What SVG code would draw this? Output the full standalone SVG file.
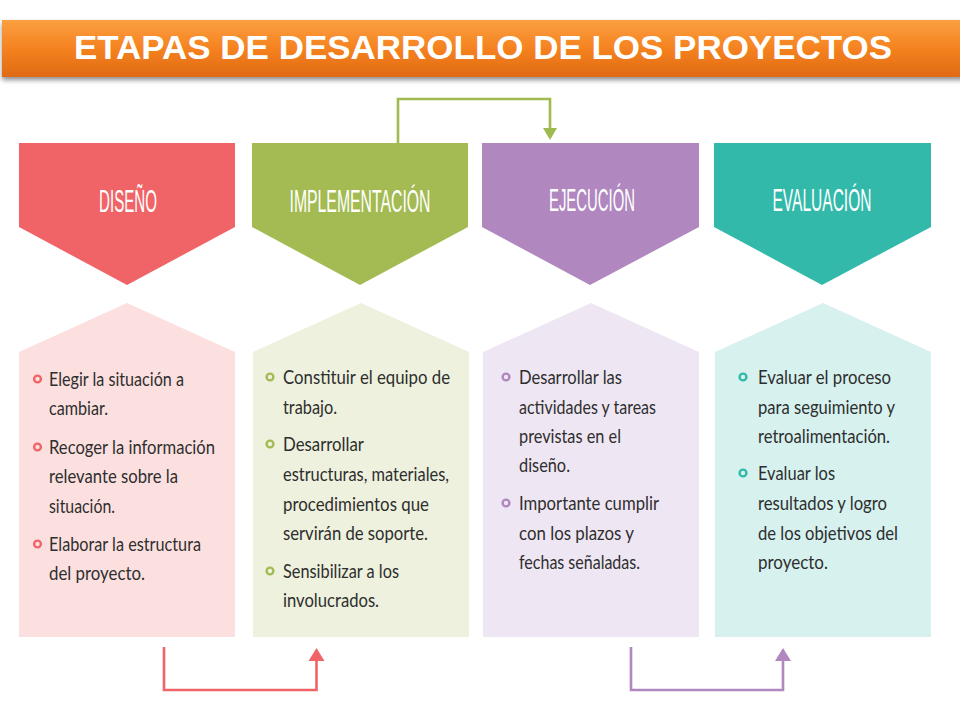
<svg xmlns="http://www.w3.org/2000/svg" width="960" height="720" viewBox="0 0 960 720">
<defs>
<linearGradient id="og" x1="0" y1="0" x2="0" y2="1">
<stop offset="0" stop-color="#fba041"/>
<stop offset="0.5" stop-color="#f58220"/>
<stop offset="1" stop-color="#e06a12"/>
</linearGradient>
<filter id="sh" x="-5%" y="-20%" width="110%" height="160%">
<feGaussianBlur in="SourceAlpha" stdDeviation="2.5"/>
<feOffset dx="0" dy="3" result="b"/>
<feComponentTransfer><feFuncA type="linear" slope="0.45"/></feComponentTransfer>
<feMerge><feMergeNode/><feMergeNode in="SourceGraphic"/></feMerge>
</filter>
<style>
.hd{font-family:"Liberation Sans",Arial,sans-serif;font-size:31px;fill:#ffffff;text-anchor:middle}
.tx{font-family:Lato,"Liberation Sans",sans-serif;font-size:20px;fill:#2e2e2e}
.ln{fill:none;stroke-width:2.6}
.bl{fill:none;stroke-width:2.4}
</style>
</defs>
<rect width="960" height="720" fill="#ffffff"/>

<g id="title">
<rect x="2" y="20" width="962" height="57" fill="url(#og)" filter="url(#sh)"/>
<text x="483" y="59" font-family="Liberation Sans,Arial,sans-serif" font-weight="bold" font-size="33" fill="#ffffff" text-anchor="middle" textLength="818" lengthAdjust="spacingAndGlyphs">ETAPAS DE DESARROLLO DE LOS PROYECTOS</text>
</g>

<g id="diseno">
<path d="M19,143 H235 V227 L127,285 L19,227 Z" fill="#f06467"/>
<text class="hd" x="128" y="212" textLength="58" lengthAdjust="spacingAndGlyphs">DISEÑO</text>
<path d="M19,352 L127,303 L235,352 V637 H19 Z" fill="#fce0e0"/>
<g class="bl" stroke="#f06467">
<circle cx="37.5" cy="379" r="3.4"/><circle cx="37.5" cy="447" r="3.4"/><circle cx="37.5" cy="544" r="3.4"/>
</g>
<text class="tx" x="49" y="386" textLength="135" lengthAdjust="spacingAndGlyphs">Elegir la situación a</text>
<text class="tx" x="49" y="415" textLength="59" lengthAdjust="spacingAndGlyphs">cambiar.</text>
<text class="tx" x="49" y="454" textLength="166" lengthAdjust="spacingAndGlyphs">Recoger la información</text>
<text class="tx" x="49" y="483" textLength="129" lengthAdjust="spacingAndGlyphs">relevante sobre la</text>
<text class="tx" x="49" y="513" textLength="66" lengthAdjust="spacingAndGlyphs">situación.</text>
<text class="tx" x="49" y="551" textLength="152" lengthAdjust="spacingAndGlyphs">Elaborar la estructura</text>
<text class="tx" x="49" y="580" textLength="96" lengthAdjust="spacingAndGlyphs">del proyecto.</text>
</g>

<g id="implementacion">
<path d="M252,143 H468 V227 L360,285 L252,227 Z" fill="#a3bb52"/>
<text class="hd" x="360" y="212" textLength="141" lengthAdjust="spacingAndGlyphs">IMPLEMENTACIÓN</text>
<path d="M253,352 L361,303 L469,352 V637 H253 Z" fill="#edf1dd"/>
<g class="bl" stroke="#a3bb52">
<circle cx="270" cy="377" r="3.4"/><circle cx="270" cy="444" r="3.4"/><circle cx="270" cy="571" r="3.4"/>
</g>
<text class="tx" x="283" y="384" textLength="167" lengthAdjust="spacingAndGlyphs">Constituir el equipo de</text>
<text class="tx" x="283" y="414" textLength="54" lengthAdjust="spacingAndGlyphs">trabajo.</text>
<text class="tx" x="283" y="451" textLength="81" lengthAdjust="spacingAndGlyphs">Desarrollar</text>
<text class="tx" x="283" y="481" textLength="166" lengthAdjust="spacingAndGlyphs">estructuras, materiales,</text>
<text class="tx" x="283" y="511" textLength="146" lengthAdjust="spacingAndGlyphs">procedimientos que</text>
<text class="tx" x="283" y="540" textLength="145" lengthAdjust="spacingAndGlyphs">servirán de soporte.</text>
<text class="tx" x="283" y="578" textLength="116" lengthAdjust="spacingAndGlyphs">Sensibilizar a los</text>
<text class="tx" x="283" y="607" textLength="96" lengthAdjust="spacingAndGlyphs">involucrados.</text>
</g>

<g id="ejecucion">
<path d="M482,143 H699 V227 L590,285 L482,227 Z" fill="#b087be"/>
<text class="hd" x="592" y="211" textLength="86" lengthAdjust="spacingAndGlyphs">EJECUCIÓN</text>
<path d="M483,352 L591,303 L699,352 V637 H483 Z" fill="#efe6f3"/>
<g class="bl" stroke="#b087be">
<circle cx="506" cy="377" r="3.4"/><circle cx="506" cy="503" r="3.4"/>
</g>
<text class="tx" x="519" y="384" textLength="103" lengthAdjust="spacingAndGlyphs">Desarrollar las</text>
<text class="tx" x="519" y="414" textLength="137" lengthAdjust="spacingAndGlyphs">actividades y tareas</text>
<text class="tx" x="519" y="443" textLength="102" lengthAdjust="spacingAndGlyphs">previstas en el</text>
<text class="tx" x="519" y="472" textLength="51" lengthAdjust="spacingAndGlyphs">diseño.</text>
<text class="tx" x="519" y="510" textLength="140" lengthAdjust="spacingAndGlyphs">Importante cumplir</text>
<text class="tx" x="519" y="540" textLength="115" lengthAdjust="spacingAndGlyphs">con los plazos y</text>
<text class="tx" x="519" y="569" textLength="121" lengthAdjust="spacingAndGlyphs">fechas señaladas.</text>
</g>

<g id="evaluacion">
<path d="M714,143 H931 V227 L822,285 L714,227 Z" fill="#33b9aa"/>
<text class="hd" x="822" y="211" textLength="99" lengthAdjust="spacingAndGlyphs">EVALUACIÓN</text>
<path d="M715,352 L823,303 L931,352 V637 H715 Z" fill="#d6f1ee"/>
<g class="bl" stroke="#33b9aa">
<circle cx="743" cy="377" r="3.4"/><circle cx="743" cy="473" r="3.4"/>
</g>
<text class="tx" x="758" y="384" textLength="133" lengthAdjust="spacingAndGlyphs">Evaluar el proceso</text>
<text class="tx" x="758" y="414" textLength="137" lengthAdjust="spacingAndGlyphs">para seguimiento y</text>
<text class="tx" x="758" y="443" textLength="132" lengthAdjust="spacingAndGlyphs">retroalimentación.</text>
<text class="tx" x="758" y="480" textLength="77" lengthAdjust="spacingAndGlyphs">Evaluar los</text>
<text class="tx" x="758" y="510" textLength="129" lengthAdjust="spacingAndGlyphs">resultados y logro</text>
<text class="tx" x="758" y="540" textLength="140" lengthAdjust="spacingAndGlyphs">de los objetivos del</text>
<text class="tx" x="758" y="569" textLength="70" lengthAdjust="spacingAndGlyphs">proyecto.</text>
</g>

<g id="connectors">
<path class="ln" d="M398,143 V99 H550 V128" stroke="#9fbb4f"/>
<path d="M543,128 H557 L550,140 Z" fill="#9fbb4f"/>
<path class="ln" d="M164,647 V690 H316.5 V660" stroke="#f06467"/>
<path d="M308.5,661 H324.5 L316.5,648 Z" fill="#f06467"/>
<path class="ln" d="M631,647 V690 H783 V660" stroke="#b087be"/>
<path d="M775,661 H791 L783,648 Z" fill="#b087be"/>
</g>
</svg>
